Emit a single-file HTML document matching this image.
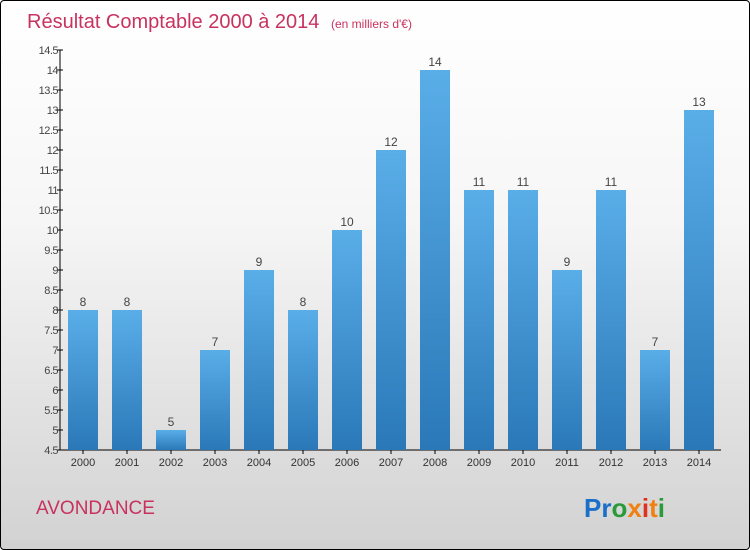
<!DOCTYPE html>
<html><head><meta charset="utf-8"><style>
body{margin:0}
#wrap{position:relative;width:748px;height:548px;border:1px solid #000;border-radius:4px;background:linear-gradient(#ffffff 0%,#f6f6f6 40%,#d2d2d2 100%);overflow:hidden;font-family:"Liberation Sans",sans-serif}
</style></head><body>
<div id="wrap">
<svg width="748" height="548">
<defs><linearGradient id="bg" x1="0" y1="0" x2="0" y2="1"><stop offset="0" stop-color="#5aaee8"/><stop offset="1" stop-color="#2a78b8"/></linearGradient></defs>
<text x="26" y="27" font-size="20" fill="#c8325f">Résultat Comptable 2000 à 2014 <tspan font-size="12" dx="6">(en milliers d'€)</tspan></text>
<g id="axes"></g><g id="bars"></g>
<text x="35" y="513" font-size="19" fill="#c8325f">AVONDANCE</text>
<text x="583" y="516" font-size="26" font-weight="bold"><tspan fill="#1a6fc8">Pr</tspan><tspan fill="#2a9a3a">o</tspan><tspan fill="#f08010">x</tspan><tspan fill="#e03020">i</tspan><tspan fill="#f08010">t</tspan><tspan fill="#2a9a3a">i</tspan></text>
</svg></div>
<script>
const years=["2000","2001","2002","2003","2004","2005","2006","2007","2008","2009","2010","2011","2012","2013","2014"];
const values=[8,8,5,7,9,8,10,12,14,11,11,9,11,7,13];
const yTicks=[4.5,5,5.5,6,6.5,7,7.5,8,8.5,9,9.5,10,10.5,11,11.5,12,12.5,13,13.5,14,14.5];
const NS="http://www.w3.org/2000/svg";
const y=v=>449-(v-4.5)*40, x=i=>82+i*44;
function mk(t,a,p,txt){const e=document.createElementNS(NS,t);for(const k in a)e.setAttribute(k,a[k]);if(txt!==undefined)e.textContent=txt;p.appendChild(e);return e;}
const ax=document.getElementById('axes'),bs=document.getElementById('bars');
const yl=mk('line',{x1:59,y1:y(14.5),x2:59,y2:449,stroke:'#000'},ax);

const xl=mk('line',{x1:59,y1:449,x2:720,y2:449,stroke:'#000'},ax);

yTicks.forEach(v=>{mk('line',{x1:56,y1:y(v),x2:62,y2:y(v),stroke:'#000'},ax);
const t=mk('text',{x:57,y:y(v)+4,'font-size':11,fill:'#444','text-anchor':'end','letter-spacing':'-0.5'},ax,String(v));
});
years.forEach((yr,i)=>{
const r=mk('rect',{x:x(i)-15,y:y(values[i]),width:30,height:449-y(values[i]),fill:'url(#bg)'},bs);

const l=mk('text',{x:x(i),y:y(values[i])-4,'font-size':12,fill:'#444','text-anchor':'middle'},bs,String(values[i]));

mk('line',{x1:x(i),y1:449,x2:x(i),y2:453,stroke:'#000'},ax);
const xt=mk('text',{x:x(i),y:465,'font-size':11,fill:'#333','text-anchor':'middle'},ax,yr);
});
</script>
</body></html>
